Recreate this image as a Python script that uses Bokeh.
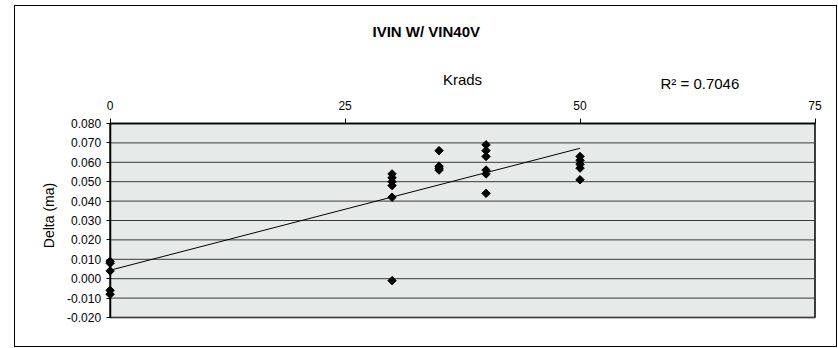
import numpy as np
from bokeh.plotting import figure
from bokeh.models import (Range1d, FixedTicker, NumeralTickFormatter, Label,
                          InlineStyleSheet)
from bokeh.embed import file_html
from bokeh.resources import INLINE

# ---- data ----
krads = [0, 0, 0, 0, 0,
         30, 30, 30, 30, 30, 30,
         35, 35, 35, 35,
         40, 40, 40, 40, 40, 40,
         50, 50, 50, 50, 50]
delta = [0.009, 0.008, 0.004, -0.006, -0.008,
         0.054, 0.052, 0.050, 0.048, 0.042, -0.001,
         0.066, 0.058, 0.057, 0.056,
         0.069, 0.066, 0.063, 0.056, 0.054, 0.044,
         0.063, 0.061, 0.059, 0.057, 0.051]
x_ticks = [0, 25, 50, 75]
y_ticks = [-0.02, -0.01, 0.0, 0.01, 0.02, 0.03, 0.04, 0.05, 0.06, 0.07, 0.08]
title_text = "IVIN W/ VIN40V"
x_label = "Krads"
y_label = "Delta (ma)"
r2_text = "R\u00b2 = 0.7046"

FONT = "Liberation Sans"
X0, X1 = x_ticks[0], x_ticks[-1]
Y0, Y1 = y_ticks[0], y_ticks[-1]

# linear trend line (least squares) over the data range
slope, intercept = np.polyfit(krads, delta, 1)
trend_x = [min(krads), max(krads)]
trend_y = [intercept + slope * v for v in trend_x]

# ---- layout (pixels); the frame covers the whole canvas ----
W, H = 838, 348
PLOT_L, PLOT_R = 109.6, 814.5          # pixel columns of X0 and X1
PLOT_T, PLOT_B = 123, 317              # pixel rows of Y1 and Y0
x_per_px = (X1 - X0) / (PLOT_R - PLOT_L)
y_per_px = (Y1 - Y0) / (PLOT_B - PLOT_T)
x_lo = X0 - PLOT_L * x_per_px
x_hi = X1 + (W - PLOT_R) * x_per_px
y_lo = Y0 - (H - PLOT_B) * y_per_px
y_hi = Y1 + PLOT_T * y_per_px

p = figure(width=W, height=H, title=None,
           x_range=Range1d(x_lo, x_hi),
           y_range=Range1d(y_lo, y_hi),
           x_axis_location="above",
           output_backend="svg", toolbar_location=None,
           min_border_left=0, min_border_right=0,
           min_border_top=0, min_border_bottom=0,
           background_fill_color="white", border_fill_color="white")
p.outline_line_color = None

# outer chart border (CSS on the figure host)
p.stylesheets = [InlineStyleSheet(css=(
    ":host { position: relative; }"
    ":host::after { content: ''; position: absolute; left: 14px; top: 5px;"
    " width: 823px; height: 342px; box-sizing: border-box;"
    " border: 1px solid #000; pointer-events: none; }"))]

# plot-area background + border and horizontal grid lines
p.quad(left=[X0], right=[X1], bottom=[Y0], top=[Y1],
       fill_color="#E6EBEA", line_color="black", line_width=1.5, level="image")
n = len(y_ticks)
p.segment(x0=[X0] * n, x1=[X1] * n, y0=y_ticks, y1=y_ticks,
          line_color="#3a3a3a", line_width=1, level="image")
p.xgrid.visible = False
p.ygrid.visible = False

# x axis (top), drawn at y = Y1
xa = p.xaxis[0]
xa.fixed_location = Y1
xa.ticker = FixedTicker(ticks=x_ticks)
xa.bounds = (X0, X1)
xa.major_label_text_font = FONT
xa.major_label_text_font_size = "12px"
xa.major_label_text_color = "black"
xa.major_label_standoff = 9
xa.major_tick_in = 0
xa.major_tick_out = 5
xa.minor_tick_line_color = None
xa.axis_line_color = "black"
xa.axis_line_width = 1.5
xa.major_tick_line_color = "black"

# y axis (left), drawn at x = X0
ya = p.yaxis[0]
ya.fixed_location = X0
ya.ticker = FixedTicker(ticks=y_ticks)
ya.bounds = (Y0, Y1)
ya.formatter = NumeralTickFormatter(format="0.000")
ya.major_label_text_font = FONT
ya.major_label_text_font_size = "12px"
ya.major_label_text_color = "black"
ya.major_label_standoff = 5
ya.major_tick_in = 0
ya.major_tick_out = 4
ya.minor_tick_line_color = None
ya.axis_line_color = "black"
ya.axis_line_width = 1.5
ya.major_tick_line_color = "black"

# trend line and points
p.line(trend_x, trend_y, line_color="black", line_width=1)
p.scatter(krads, delta, marker="square", angle=np.pi / 4, size=6,
          fill_color="black", line_color="black")

# texts (screen units: from canvas left / canvas bottom, y up)
def txt(text, x, y, size, align="left", bold=False, angle=0.0, baseline="alphabetic"):
    p.add_layout(Label(x=x, y=y, x_units="screen", y_units="screen",
                       text=text, text_font=FONT, text_font_size=size,
                       text_font_style="bold" if bold else "normal",
                       text_align=align, text_baseline=baseline,
                       angle=angle, text_color="black"))

txt(title_text, 372, H - 31, "15px", bold=True)
txt(x_label, 462, H - 79, "15px", align="center")
txt(r2_text, 660, H - 83, "15px")
txt(y_label, 48, H - 215, "14px", align="center", angle=np.pi / 2, baseline="middle")

open("out.html", "w").write(file_html(p, INLINE))
